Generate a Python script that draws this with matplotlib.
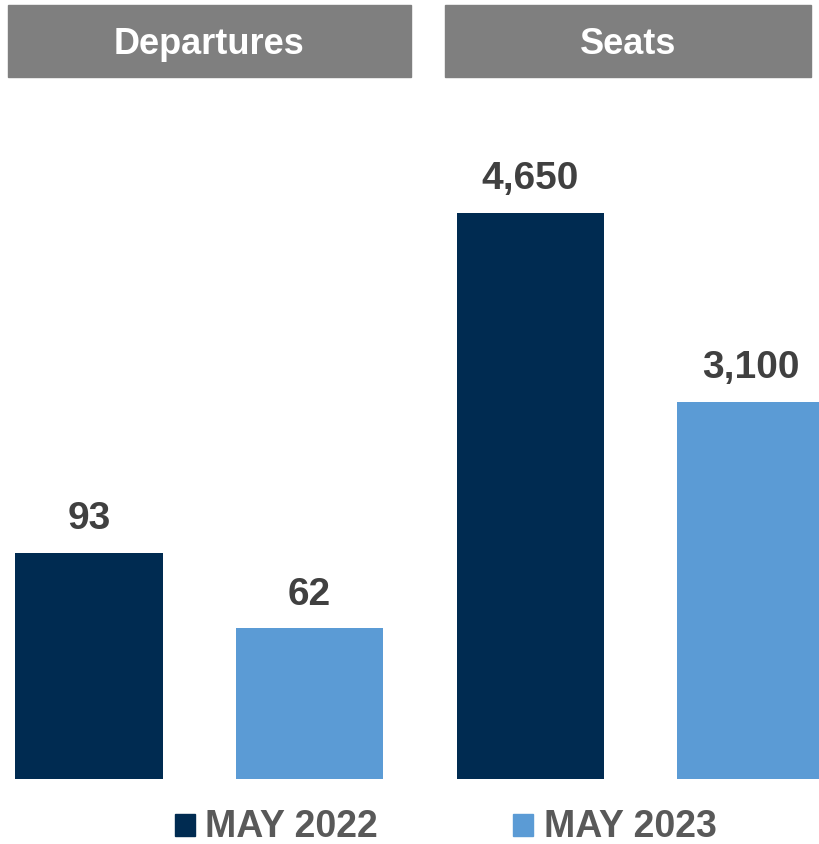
import matplotlib
matplotlib.use("Agg")
import matplotlib.pyplot as plt
from matplotlib import font_manager as fm
from matplotlib.patches import Rectangle

names = {f.name for f in fm.fontManager.ttflist}
FONT = "Liberation Sans Narrow" if "Liberation Sans Narrow" in names else "Liberation Sans"
plt.rcParams['font.family'] = [FONT, 'DejaVu Sans']

panels = ["Departures", "Seats"]
series = ["MAY 2022", "MAY 2023"]
departures = [93, 62]
seats = [4650, 3100]
labels_dep = ["93", "62"]
labels_seats = ["4,650", "3,100"]
colors = ["#002B51", "#5B9BD5"]

W, H = 820, 845
fig = plt.figure(figsize=(W/100, H/100), dpi=100)

def px_axes(x0, y0, x1, y1):
    return fig.add_axes([x0/W, 1 - y1/H, (x1-x0)/W, (y1-y0)/H])

unit = 220.5
axL = px_axes(8, 100, 411, 780)
axL.set_xlim(-81/unit, (403-81)/unit)
axL.set_ylim(0, 680/2.43)
axR = px_axes(445, 100, 820, 780)
axR.set_xlim(-85.5/unit, (375-85.5)/unit)
axR.set_ylim(0, 680/0.1217)

for ax, vals, labs in [(axL, departures, labels_dep), (axR, seats, labels_seats)]:
    ax.bar([0, 1], vals, width=0.67, color=colors)
    for i, (v, l) in enumerate(zip(vals, labs)):
        ax.annotate(l, (i, v), xytext=(0, 12), textcoords="offset points",
                    ha="center", va="bottom", fontsize=28, fontweight="bold",
                    color="#404040")
    ax.axis("off")

for (x0, x1), name in zip([(8, 411), (445, 811)], panels):
    fig.patches.append(Rectangle((x0/W, 1-78/H), (x1-x0)/W, 72/H,
                                 transform=fig.transFigure, color="#7F7F7F"))
    fig.text((x0+x1)/2/W, 1-45/H, name, ha="center", va="center",
             fontsize=26, fontweight="bold", color="white")

for (mx, tx), s, c in zip([(175, 205), (513, 544)], series, colors):
    fig.patches.append(Rectangle((mx/W, 1-837/H), 20/W, 22/H,
                                 transform=fig.transFigure, color=c))
    fig.text(tx/W, 1-827/H, s, ha="left", va="center", fontsize=27,
             fontweight="bold", color="#595959")

fig.savefig("out.png", dpi=100)
